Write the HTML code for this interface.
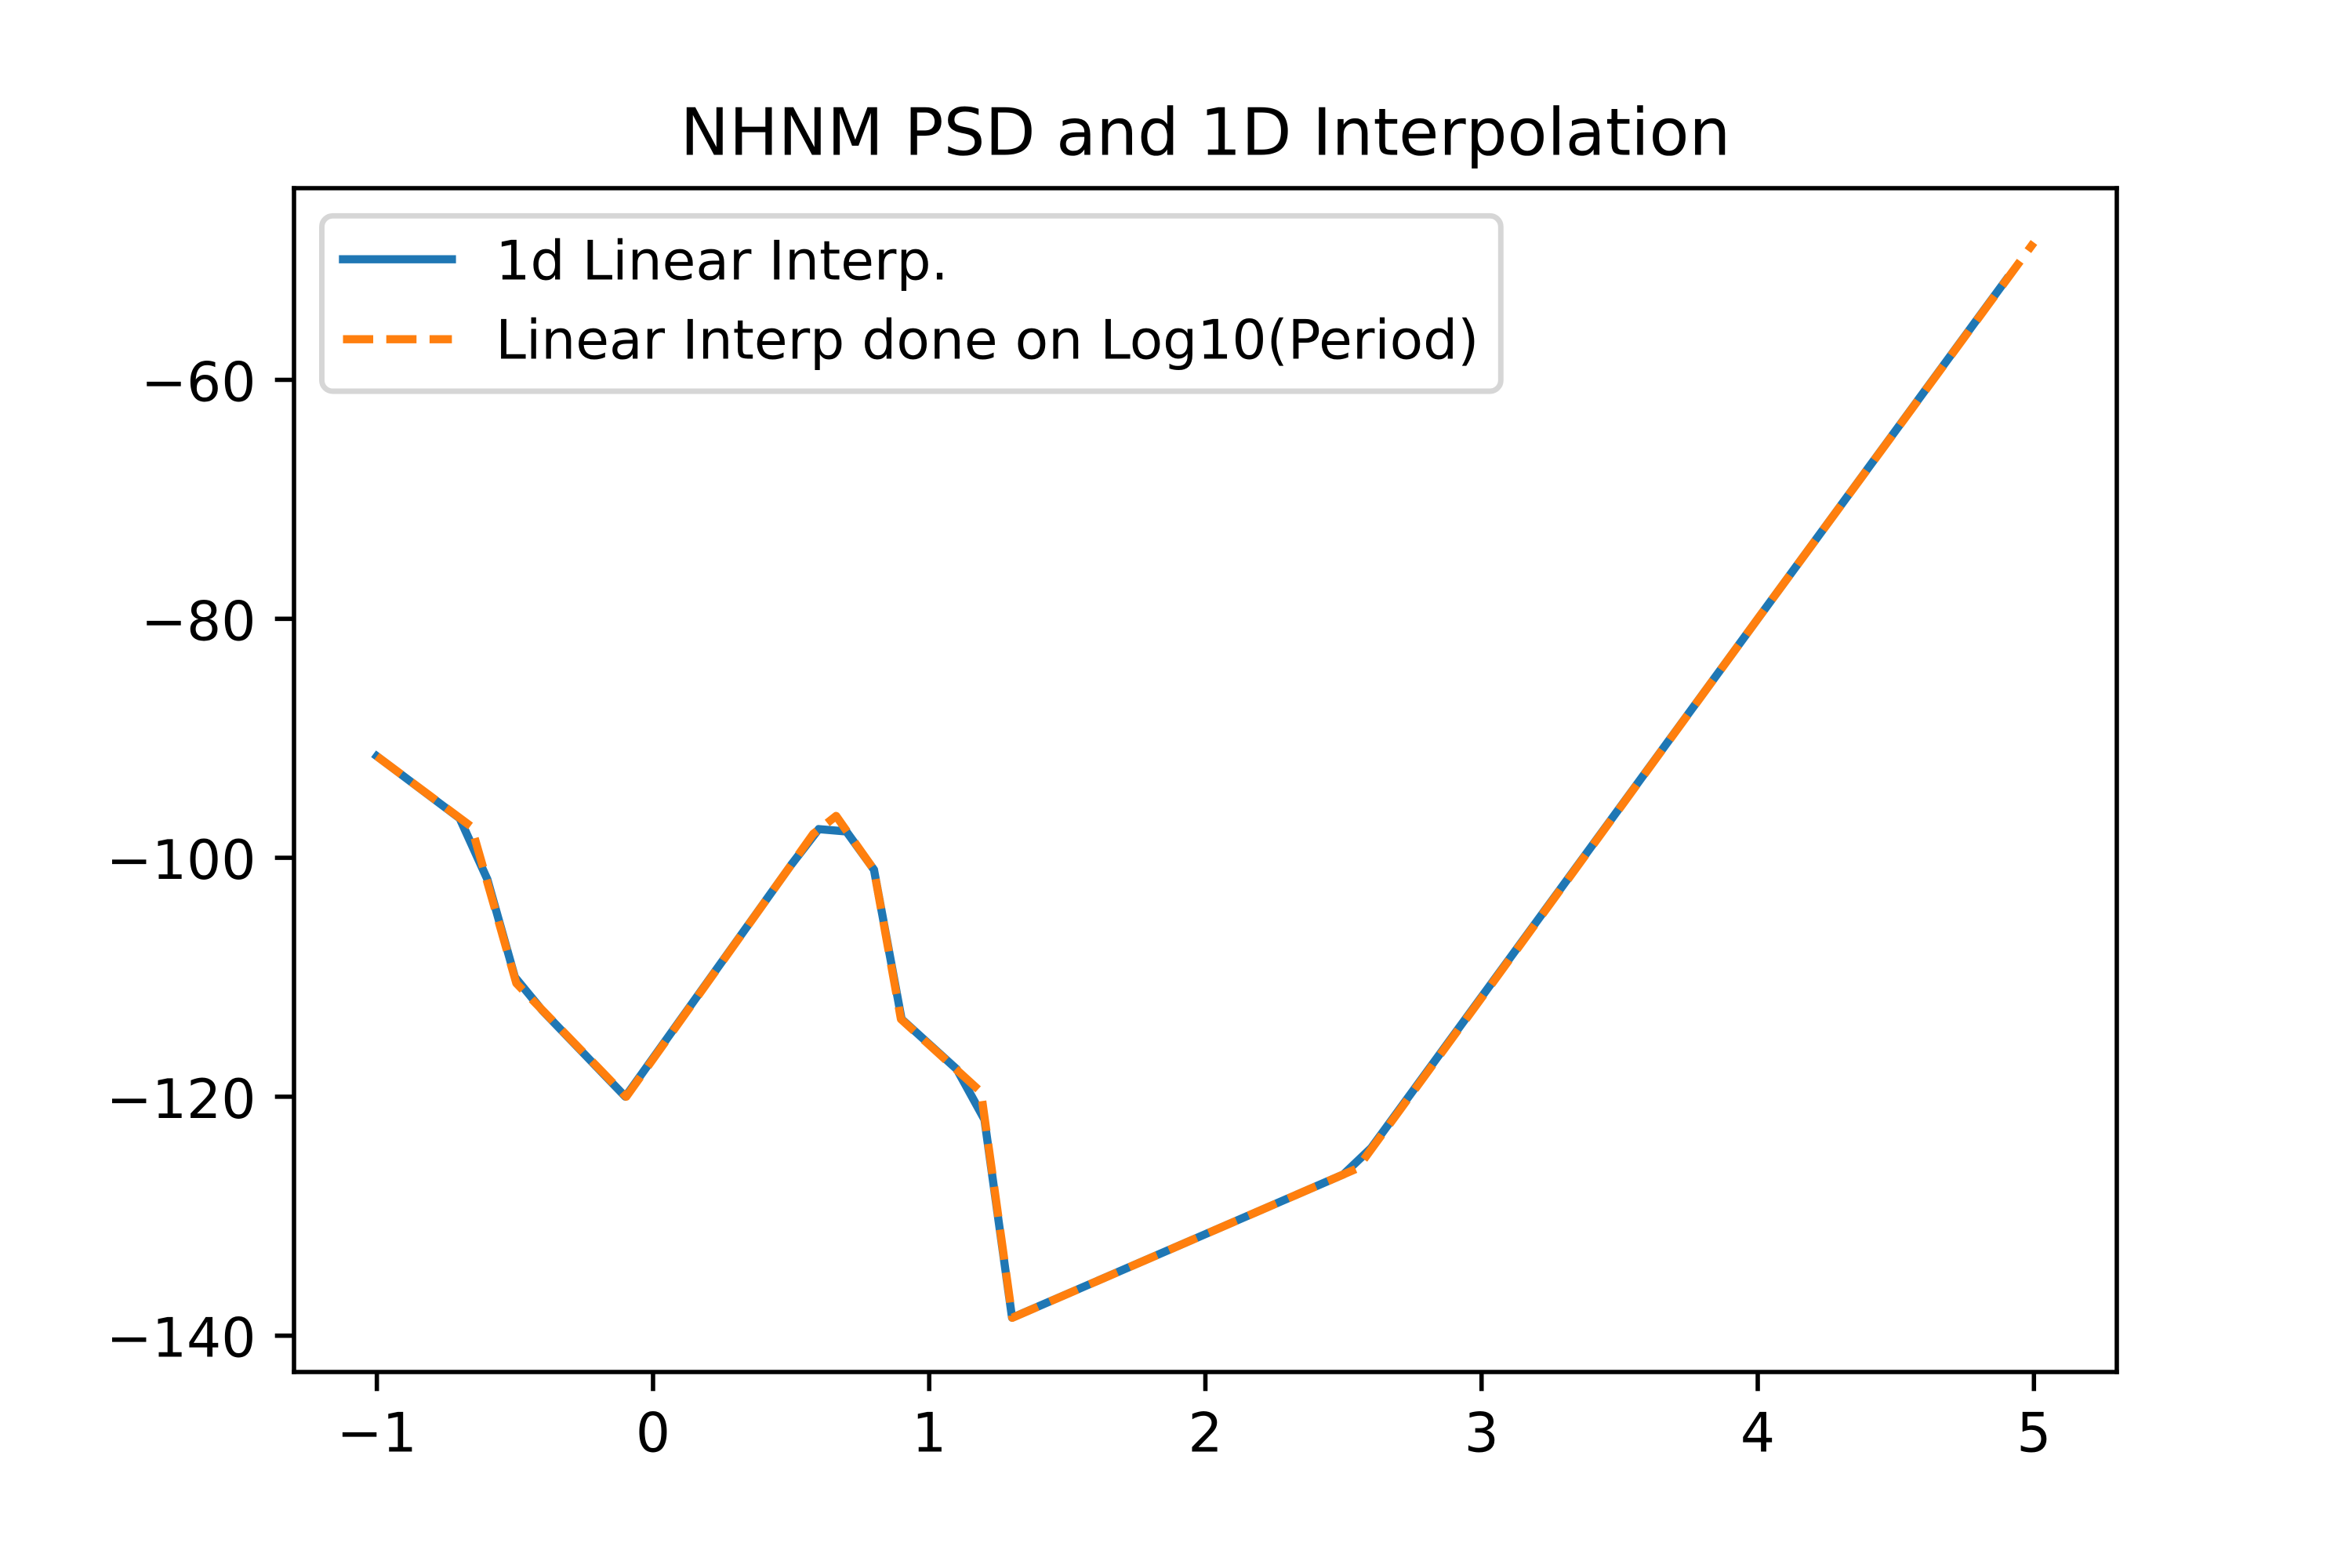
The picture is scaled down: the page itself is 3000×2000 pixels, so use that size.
<!DOCTYPE html>
<html lang="en">
<head>
<meta charset="utf-8">
<title>NHNM PSD and 1D Interpolation</title>
<style>
  html, body { margin: 0; padding: 0; background: #ffffff; }
  body { width: 3000px; height: 2000px; overflow: hidden; }
  svg { display: block; }
  text { font-family: "DejaVu Sans", "Liberation Sans", sans-serif; fill: #000000; text-rendering: geometricPrecision; }
</style>
</head>
<body>
<svg id="chart" xmlns="http://www.w3.org/2000/svg" width="3000" height="2000" viewBox="0 0 3000 2000">
  <rect x="0" y="0" width="3000" height="2000" fill="#ffffff"/>
  <text x="1537.5" y="197.7" font-size="83.33" text-anchor="middle">NHNM PSD and 1D Interpolation</text>
  <g id="ticks"></g>
  <g id="series"></g>
  <g id="spines" stroke="#000000" stroke-width="5.56" stroke-linecap="square">
    <line x1="375" y1="240" x2="375" y2="1750"/>
    <line x1="2700" y1="240" x2="2700" y2="1750"/>
    <line x1="375" y1="240" x2="2700" y2="240"/>
    <line x1="375" y1="1750" x2="2700" y2="1750"/>
  </g>
  <g>
    <rect x="410.5" y="275.3" width="1503.8" height="223.7" rx="13.9" ry="13.9" fill="#ffffff" fill-opacity="0.8" stroke="#d6d6d6" stroke-width="6.94"/>
    <line x1="437.5" y1="330.7" x2="576.4" y2="330.7" stroke="#1f77b4" stroke-width="10.42" stroke-linecap="square"/>
    <text x="632.3" y="356.7" font-size="69.44">1d Linear Interp.</text>
    <line x1="437.5" y1="432.7" x2="576.4" y2="432.7" stroke="#ff7f0e" stroke-width="10.42" stroke-dasharray="38.54 16.67"/>
    <text x="632.3" y="457.3" font-size="69.44">Linear Interp done on Log10(Period)</text>
  </g>
</svg>
<script>
// Chart data
const xTickValues = [-1, 0, 1, 2, 3, 4, 5];
const xTickLabels = ["\u22121", "0", "1", "2", "3", "4", "5"];
const yTickValues = [-60, -80, -100, -120, -140];
const yTickLabels = ["\u221260", "\u221280", "\u2212100", "\u2212120", "\u2212140"];

const linearLogPeriod = [-1, -0.7, -0.6, -0.5, -0.4, -0.1, 0.5, 0.6, 0.7, 0.8, 0.9, 1.1, 1.2, 1.3, 2.5, 2.6, 4, 4.9];
const linearPsd = [-91.5, -96.7, -101.8, -110, -112.8, -120, -100.6, -97.6, -97.8, -101, -113.5, -117.7, -121.9, -138.5, -126.5, -124.3, -80, -51.6];

const logInterpLogPeriod = [-1, -0.6576, -0.495, -0.097, 0.58, 0.663, 0.8, 0.8976, 1.1875, 1.301, 2.55, 4, 5];
const logInterpPsd = [-91.5, -97.4, -110.5, -120, -98, -96.5, -101, -113.5, -119.6, -138.5, -126, -80, -48.5];

// Axis functions
function xScale(v) { return 480.68 + (v + 1) * 352.27; }
function yScale(v) { return 1703.7 - (v + 140) * 15.24; }

const NS = 'http://www.w3.org/2000/svg';
const tickGroup = document.getElementById('ticks');
const seriesGroup = document.getElementById('series');

xTickValues.forEach(function (v, i) {
  const t = document.createElementNS(NS, 'line');
  t.setAttribute('x1', xScale(v));
  t.setAttribute('x2', xScale(v));
  t.setAttribute('y1', 1750);
  t.setAttribute('y2', 1774.3);
  t.setAttribute('stroke', '#000000');
  t.setAttribute('stroke-width', '5.56');
  
  
  tickGroup.appendChild(t);

  const l = document.createElementNS(NS, 'text');
  l.setAttribute('x', xScale(v));
  l.setAttribute('y', 1851.7);
  l.setAttribute('font-size', '69.44');
  l.setAttribute('text-anchor', 'middle');
  
  
  l.textContent = xTickLabels[i];
  tickGroup.appendChild(l);
});

yTickValues.forEach(function (v, i) {
  const t = document.createElementNS(NS, 'line');
  t.setAttribute('x1', 350.7);
  t.setAttribute('x2', 375);
  t.setAttribute('y1', yScale(v));
  t.setAttribute('y2', yScale(v));
  t.setAttribute('stroke', '#000000');
  t.setAttribute('stroke-width', '5.56');
  
  
  tickGroup.appendChild(t);

  const l = document.createElementNS(NS, 'text');
  l.setAttribute('x', 326.4);
  l.setAttribute('y', yScale(v) + 27);
  l.setAttribute('font-size', '69.44');
  l.setAttribute('text-anchor', 'end');
  
  
  l.textContent = yTickLabels[i];
  tickGroup.appendChild(l);
});

function pathFrom(xs, ys) {
  return xs.map(function (x, i) {
    return (i === 0 ? 'M' : 'L') + xScale(x).toFixed(2) + ' ' + yScale(ys[i]).toFixed(2);
  }).join(' ');
}

const linearLine = document.createElementNS(NS, 'path');
linearLine.setAttribute('d', pathFrom(linearLogPeriod, linearPsd));
linearLine.setAttribute('fill', 'none');
linearLine.setAttribute('stroke', '#1f77b4');
linearLine.setAttribute('stroke-width', '10.42');
linearLine.setAttribute('stroke-linecap', 'square');
linearLine.setAttribute('stroke-linejoin', 'round');


seriesGroup.appendChild(linearLine);

const logLine = document.createElementNS(NS, 'path');
logLine.setAttribute('d', pathFrom(logInterpLogPeriod, logInterpPsd));
logLine.setAttribute('fill', 'none');
logLine.setAttribute('stroke', '#ff7f0e');
logLine.setAttribute('stroke-width', '10.42');
logLine.setAttribute('stroke-linecap', 'butt');
logLine.setAttribute('stroke-linejoin', 'round');
logLine.setAttribute('stroke-dasharray', '38.54 16.67');


seriesGroup.appendChild(logLine);
</script>
</body>
</html>
